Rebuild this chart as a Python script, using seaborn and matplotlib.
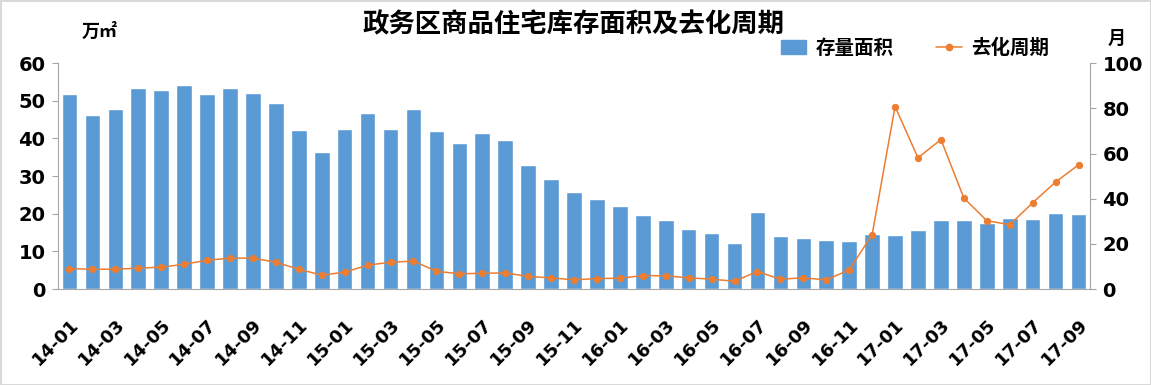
import matplotlib
matplotlib.use('Agg')
import matplotlib.pyplot as plt
import numpy as np
import pandas as pd
import seaborn as sns
from matplotlib.lines import Line2D
from matplotlib.patches import Patch

# 月份 14-01 ... 17-09
months = [f'{y}-{m:02d}' for y in (14, 15, 16, 17) for m in range(1, 13)][:45]

# 存量面积 (万㎡)
stock = [51.7, 46.1, 47.7, 53.3, 52.8, 54.1, 51.7, 53.3, 52.0, 49.3,
         42.2, 36.4, 42.4, 46.7, 42.4, 47.7, 41.9, 38.7, 41.4, 39.5,
         32.9, 29.2, 25.8, 23.9, 22.1, 19.7, 18.3, 15.9, 14.9, 12.3,
         20.5, 14.1, 13.6, 13.1, 12.8, 14.6, 14.4, 15.7, 18.3, 18.3,
         17.6, 18.9, 18.6, 20.2, 19.9]

# 去化周期 (月)
cycle = [9.1, 8.8, 8.8, 9.3, 9.7, 11.0, 12.8, 13.7, 13.7, 11.9,
         8.8, 6.2, 7.5, 10.6, 11.9, 12.4, 7.9, 6.8, 7.0, 7.2,
         5.6, 5.0, 4.1, 4.7, 4.8, 6.0, 5.9, 5.0, 4.4, 3.5,
         7.8, 4.4, 5.0, 4.1, 8.5, 24.1, 80.8, 58.1, 66.2, 40.3,
         30.3, 28.5, 38.2, 47.4, 55.0]

df = pd.DataFrame({'month': months, 'stock': stock, 'cycle': cycle})

sns.set_style('white')
plt.rcParams['font.family'] = ['DejaVu Sans', 'Noto Sans CJK SC']
plt.rcParams['text.color'] = 'black'
plt.rcParams['xtick.color'] = 'black'
plt.rcParams['ytick.color'] = 'black'
cjk = ['Noto Sans CJK SC', 'DejaVu Sans']

blue = '#5B9BD5'
orange = '#ED7D31'
gray = '#A6A6A6'

fig = plt.figure(figsize=(11.51, 3.85), dpi=100)
fig.patch.set_edgecolor('#D9D9D9')
fig.patch.set_linewidth(2)
ax = fig.add_axes([0.0504, 0.249, 0.8966, 0.587])

sns.barplot(data=df, x='month', y='stock', color=blue, saturation=1,
            width=0.68, ax=ax)
ax2 = ax.twinx()
sns.lineplot(x=np.arange(len(df)), y=df['cycle'], color=orange, marker='o',
             markersize=4.5, markeredgecolor=orange, linewidth=1.1, ax=ax2)

ax.set_xlim(-0.5, len(df) - 0.5)
ax.set_ylim(0, 60)
ax2.set_ylim(0, 100)
ax.set_yticks(range(0, 61, 10))
ax2.set_yticks(range(0, 101, 20))
ax.set_xticks(range(0, len(df), 2))
ax.set_xticklabels(months[::2], rotation=45, ha='right', rotation_mode='anchor',
                   fontsize=13, fontweight='bold')
ax.set_xlabel('')
ax.set_ylabel('')
ax2.set_ylabel('')

ax.tick_params(axis='x', length=0, pad=19)
ax.tick_params(axis='y', length=4, color=gray, labelsize=14, pad=5)
ax2.tick_params(axis='y', length=4, color=gray, labelsize=14, pad=5)
for t in ax.get_yticklabels() + ax2.get_yticklabels():
    t.set_fontweight('bold')

ax.spines['top'].set_visible(False)
ax.spines['right'].set_visible(False)
for s in ('left', 'bottom'):
    ax.spines[s].set_color(gray)
for s in ('top', 'left', 'bottom'):
    ax2.spines[s].set_visible(False)
ax2.spines['right'].set_color(gray)

fig.text(0.498, 0.935, '政务区商品住宅库存面积及去化周期', ha='center', va='center',
         fontsize=19, fontweight='heavy', family=cjk)
fig.text(0.071, 0.919, '万㎡', ha='left', va='center', fontsize=13,
         fontweight='bold', family=cjk)
fig.text(0.970, 0.901, '月', ha='center', va='center', fontsize=13,
         fontweight='bold', family=cjk)

handles = [Patch(facecolor=blue, edgecolor=blue),
           Line2D([0], [0], color=orange, marker='o', markersize=4.5, linewidth=1.1)]
fig.legend(handles, ['存量面积', '去化周期'], loc='center',
           bbox_to_anchor=(915 / 1151, 0.875), ncol=2, frameon=False,
           prop={'family': cjk, 'weight': 'bold', 'size': 14},
           columnspacing=2.2, handlelength=1.3, handletextpad=0.5)

fig.savefig('out.png', dpi=100)
